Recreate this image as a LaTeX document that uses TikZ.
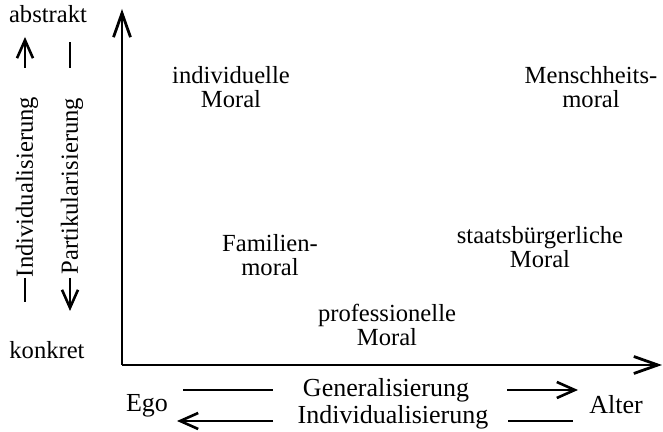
\documentclass[tikz,border=0pt]{standalone}
\usepackage{fontspec}
\setmainfont{Liberation Serif}
\usetikzlibrary{arrows.meta}
\begin{document}
\begin{tikzpicture}[x=0.5pt,y=0.5pt,
  lbl/.style={align=center, inner sep=0pt, font=\fontsize{12.3}{12}\selectfont},
  bot/.style={lbl, font=\fontsize{13}{13}\selectfont},
  axis/.style={line width=1.4pt, -{Straight Barb[length=12pt,width=8.5pt,line width=1.4pt]}},
  arr/.style={line width=1.3pt, -{Straight Barb[length=9pt,width=8pt,line width=1.3pt]}},
  bar/.style={line width=1.3pt}]
  \useasboundingbox (0,0) rectangle (663,432);
  % axes
  \coordinate (o)   at (122,67);
  \coordinate (top) at (122,423);
  \coordinate (rgt) at (662,67);
  \draw[axis] (o)--(top);
  \draw[axis] (o)--(rgt);

  % vertical labels
  \node[lbl] (abstr) at (48,418) {abstrakt};
  \node[lbl] (konkr) at (47,82)  {konkret};
  \node[lbl, rotate=90] (indv) at (27,245) {Individualisierung};
  \node[lbl, rotate=90] (part) at (72,246) {Partikularisierung};
  \coordinate (ua1) at (25,364); \coordinate (ua2) at (25,395);
  \coordinate (ul1) at (70,364); \coordinate (ul2) at (70,390);
  \coordinate (dl1) at (25,154); \coordinate (dl2) at (25,130);
  \coordinate (da1) at (70,154); \coordinate (da2) at (70,121);
  \draw[arr] (ua1)--(ua2);
  \draw[bar] (ul1)--(ul2);
  \draw[bar] (dl1)--(dl2);
  \draw[arr] (da1)--(da2);

  % horizontal labels
  \node[bot] (ego)   at (147,26) {Ego};
  \node[bot] (alter) at (616,27) {Alter};
  \node[bot] (gen)   at (386,42) {Generalisierung};
  \node[bot] (indh)  at (393,15) {Individualisierung};
  \coordinate (gl1) at (183,42); \coordinate (gl2) at (273,42);
  \coordinate (ga1) at (507,42); \coordinate (ga2) at (578,42);
  \coordinate (ia1) at (273,11); \coordinate (ia2) at (177,11);
  \coordinate (il1) at (508,11); \coordinate (il2) at (573,11);
  \draw[bar] (gl1)--(gl2);
  \draw[arr] (ga1)--(ga2);
  \draw[arr] (ia1)--(ia2);
  \draw[bar] (il1)--(il2);

  % moral types
  \node[lbl] (indmor) at (231,345) {individuelle\\Moral};
  \node[lbl] (menmor) at (591,345) {Menschheits-\\moral};
  \node[lbl] (fammor) at (270,177) {Familien-\\moral};
  \node[lbl] (stamor) at (540,185) {staatsbürgerliche\\Moral};
  \node[lbl] (promor) at (387,107) {professionelle\\Moral};
\end{tikzpicture}
\end{document}
